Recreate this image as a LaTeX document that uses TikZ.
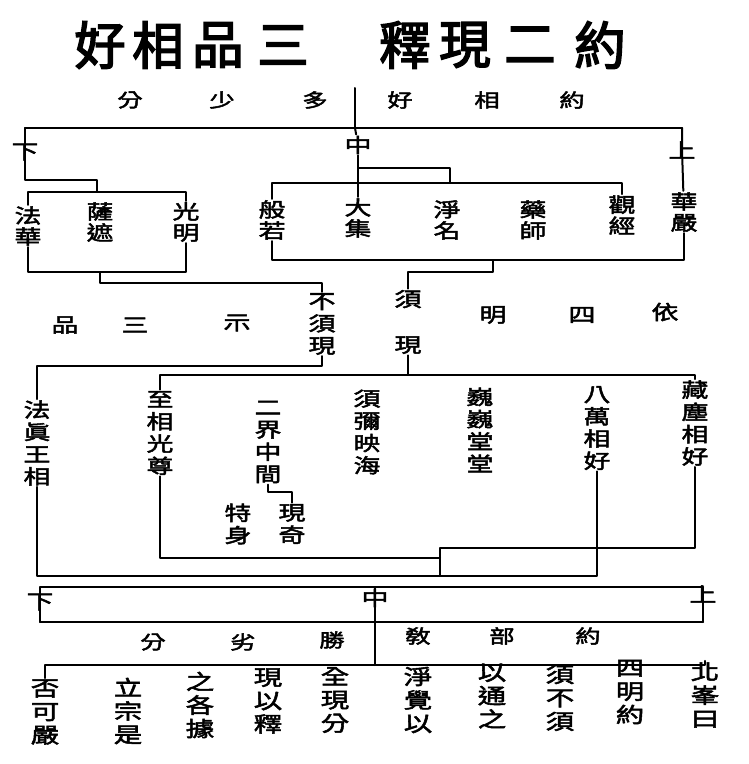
\documentclass[tikz,border=0pt]{standalone}
\usepackage{fontspec}
\newfontfamily\cjk[FakeBold=2.5, FakeStretch=1.35]{Noto Sans CJK TC}
\newfontfamily\cjkh[FakeBold=3]{Noto Sans CJK TC}
\usetikzlibrary{positioning}
\tikzset{
  headline/.style={font=\cjkh\fontsize{44}{44}\selectfont, inner sep=0pt},
  toprow/.style={font=\cjk\fontsize{16}{16}\selectfont, inner sep=1pt},
  tier/.style={font=\cjk\fontsize{17}{17}\selectfont, inner sep=1pt},
  sutra/.style={font=\cjk\fontsize{17}{18}\selectfont, align=center, inner sep=1pt},
  col/.style={font=\cjk\fontsize{17}{19}\selectfont, align=center, inner sep=1pt},
  note/.style={font=\cjk\fontsize{18}{20}\selectfont, align=center, inner sep=1pt},
  link/.style={line width=1.7pt, line cap=round, line join=round}
}
\begin{document}
\begin{tikzpicture}[x=0.03cm, y=-0.03cm]
\useasboundingbox (0,0) rectangle (748,764);
% title
\foreach \c/\x in {好/100, 相/158, 品/218, 三/283, 釋/405, 現/465, 二/530, 約/600}
  \node[headline] (t\x) at (\x,45) {\c};
% first row
\foreach \c/\x in {分/130, 少/222, 多/315, 好/400, 相/487, 約/572}
  \node[toprow] (h\x) at (\x,100) {\c};
\coordinate (d1) at (355,88);
\coordinate (topM) at (355,128);
\draw[link] (d1) -- (topM);

% upper split
\node[tier] (xia) at (25,152) {下};
\node[tier] (zhong) at (358,145) {中};
\node[tier] (shang) at (682,150) {上};
\coordinate (topL) at (25,128);
\coordinate (topR) at (682,128);
\draw[link] (topL) -- (topR);
\draw[link] (topM) -- (zhong);

\node[sutra] (fahua) at (28,226) {法\\華};
\node[sutra] (saze) at (100,222) {薩\\遮};
\node[sutra] (guangming) at (186,222) {光\\明};
\node[sutra] (boruo) at (272,220) {般\\若};
\node[sutra] (daji) at (358,218) {大\\集};
\node[sutra] (jingming) at (447,220) {淨\\名};
\node[sutra] (yaoshi) at (533,220) {藥\\師};
\node[sutra] (guanjing) at (622,215) {觀\\經};
\node[sutra] (huayan) at (684,212) {華\\嚴};

% lower grade
\coordinate (xj1) at (25,180);
\coordinate (xj2) at (97,180);
\coordinate (lbT) at (97,192);
\draw[link] (topL) -- (xia.center) -- (xj1) -- (xj2) -- (lbT);
\draw[link] (fahua.north) |- (lbT) -| (guangming.north);
\coordinate (lbB) at (100,272);
\draw[link] (fahua.south) |- (lbB) -| (guangming.south);

% middle grade
\coordinate (rbT) at (450,183);
\coordinate (zj) at (450,168);
\draw[link] (boruo.north) |- (rbT) -| (guanjing.north);
\draw[link] (zhong) |- (zj) -- (rbT);
\draw[link] (zhong) -- (daji);

% upper grade
\draw[link] (topR) -- (shang.center) -- (huayan);
\coordinate (rbB) at (493,260);
\draw[link] (boruo.south) |- (rbB) -| (huayan.south);

% two kinds of showing
\node[col] (buxu) at (322,324) {不\\須\\現};
\node[col] (xu) at (408,322) {須\\[20pt]現};
\coordinate (lj) at (100,283);
\coordinate (lj2) at (322,283);
\draw[link] (lbB) -- (lj) -- (lj2) -- (buxu);
\coordinate (rj) at (493,272);
\coordinate (rj2) at (408,272);
\draw[link] (rbB) -- (rj) -- (rj2) -- (xu);

\foreach \c/\x/\y in {品/65/325, 三/135/325, 示/237/323, 明/493/315, 四/582/315, 依/665/312}
  \node[tier] (m\x) at (\x,\y) {\c};

% three grades of marks
\node[col] (c1) at (37,443) {法\\眞\\王\\相};
\node[col] (c2) at (160,433) {至\\相\\光\\尊};
\node[col] (c3) at (268,442) {二\\界\\中\\間};
\node[col] (c4) at (367,432) {須\\彌\\映\\海};
\node[col] (c5) at (480,430) {巍\\巍\\堂\\堂};
\node[col] (c6) at (597,428) {八\\萬\\相\\好};
\node[col] (c7) at (695,423) {藏\\塵\\相\\好};
\node[col] (qite) at (292,524) {現\\奇};
\node[col] (teshen) at (238,524) {特\\身};

\coordinate (bj) at (322,366);
\coordinate (bj2) at (37,366);
\draw[link] (buxu) -- (bj) -- (bj2) -- (c1);
\coordinate (xj) at (408,375);
\coordinate (xl) at (160,375);
\coordinate (xr) at (695,375);
\draw[link] (xu) -- (xj);
\draw[link] (c2) -- (xl) -- (xr) -- (c7);
\coordinate (qj) at (268,492);
\coordinate (qj2) at (292,492);
\draw[link] (c3) -- (qj) -- (qj2) -- (qite);

% gathering
\coordinate (g2) at (160,558);
\coordinate (g2r) at (440,558);
\draw[link] (c2) -- (g2) -- (g2r);
\coordinate (g7) at (695,548);
\coordinate (gt) at (440,548);
\coordinate (gb) at (440,576);
\draw[link] (c7) -- (g7) -- (gt) -- (gb);
\coordinate (g1) at (37,576);
\coordinate (g6) at (597,576);
\draw[link] (c1) -- (g1) -- (g6) -- (c6);

% lower split
\node[tier] (xia2) at (40,602) {下};
\node[tier] (zhong2) at (375,598) {中};
\node[tier] (shang2) at (703,594) {上};
\coordinate (bT1) at (40,587);
\coordinate (bT2) at (703,587);
\coordinate (bB1) at (40,622);
\coordinate (bB2) at (703,622);
\coordinate (zt) at (375,587);
\coordinate (zb) at (375,665);
\draw[link] (bT1) -- (bT2);
\draw[link] (bB1) -- (bB2);
\draw[link] (bT1) -- (xia2.center) -- (bB1);
\draw[link] (bT2) -- (shang2.center) -- (bB2);
\draw[link] (zt) -- (zhong2.center) -- (zb);

\foreach \c/\x/\y in {分/153/642, 劣/243/642, 勝/332/640, 敎/418/636, 部/502/636, 約/588/636}
  \node[toprow] (s\x) at (\x,\y) {\c};

% bottom note
\node[note] (e1) at (45,712) {否\\可\\嚴};
\node[note] (e2) at (128,711) {立\\宗\\是};
\node[note] (e3) at (200,705) {之\\各\\據};
\node[note] (e4) at (268,701) {現\\以\\釋};
\node[note] (e5) at (335,700) {全\\現\\分};
\node[note] (e6) at (418,700) {淨\\覺\\以};
\node[note] (e7) at (492,696) {以\\通\\之};
\node[note] (e8) at (560,698) {須\\不\\須};
\node[note] (e9) at (630,692) {四\\明\\約};
\node[note] (e10) at (705,695) {北\\峯\\曰};
\draw[link] (e1.north) |- (zb) -| (e10.north);
\end{tikzpicture}
\end{document}
